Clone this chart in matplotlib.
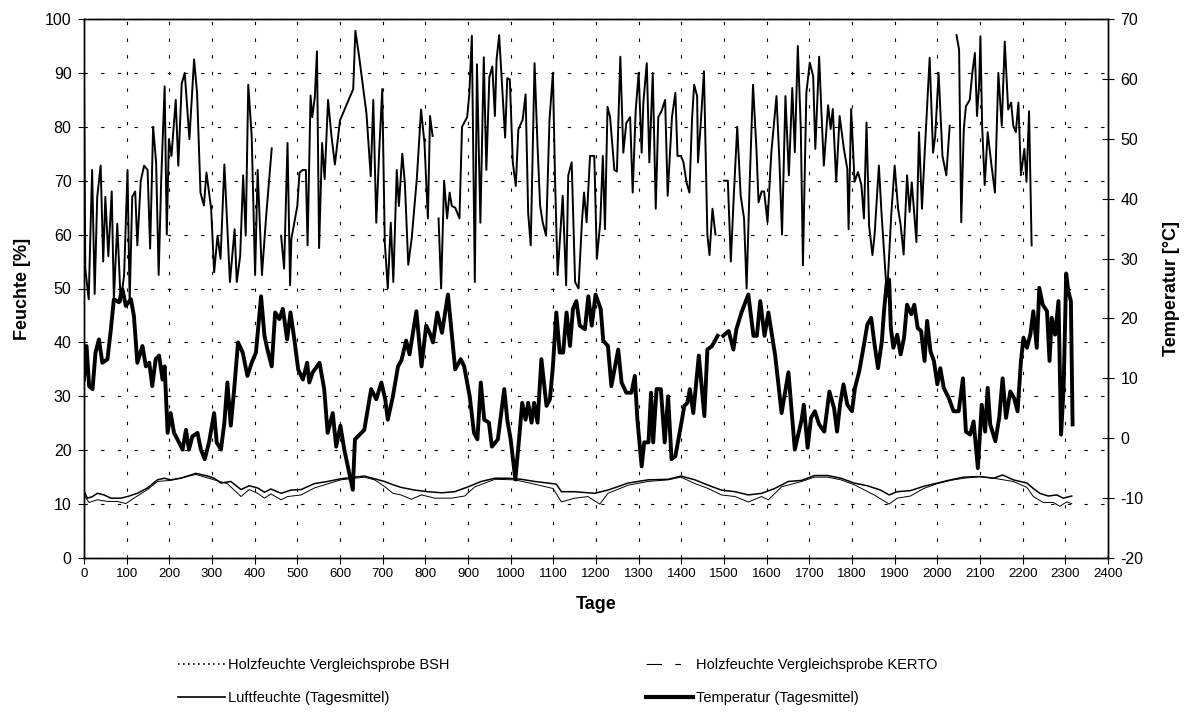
import matplotlib
matplotlib.use("Agg")
import matplotlib.pyplot as plt
from matplotlib.lines import Line2D
import numpy as np

plt.rcParams['font.family'] = ['Liberation Sans', 'DejaVu Sans']
plt.rcParams['axes.unicode_minus'] = False

nan = np.nan

# Luftfeuchte (Tagesmittel) [%]
rh_days = [0, 3, 11, 19, 25, 31, 39, 45, 50, 57, 65, 70, 78, 86, 94, 102, 107, 113, 120, 125,
           133, 141, 149, 155, 162, 169, 175, 181, 189, 194, 199, 205, 215, 221, 229, 236, 240, 247, 258, 265,
           273, 281, 287, 298, 305, 313, 320, 329, 337, 342, 353, 358, 366, 373, 379, 385, 393, 401, 407, 417,
           427, 440, 450, 462, 469, 477, 483, 486, 500, 505, 513, 520, 524, 531, 535, 541, 546, 551, 558, 564,
           572, 580, 588, 600, 631, 636, 644, 662, 672, 678, 685, 692, 699, 705, 712, 719, 725, 733, 738, 746,
           752, 760, 768, 780, 790, 798, 806, 811, 817, 824, 831, 837, 844, 851, 857, 862, 870, 880, 886, 898,
           903, 909, 916, 921, 929, 937, 943, 950, 957, 963, 967, 973, 979, 987, 992, 998, 1005, 1012, 1018, 1028,
           1035, 1041, 1047, 1056, 1063, 1069, 1075, 1083, 1091, 1099, 1104, 1110, 1116, 1122, 1130, 1135, 1143, 1151, 1159, 1167,
           1172, 1178, 1186, 1196, 1202, 1210, 1216, 1221, 1227, 1233, 1243, 1249, 1257, 1264, 1271, 1280, 1286, 1293, 1300, 1307,
           1311, 1319, 1325, 1333, 1340, 1346, 1354, 1362, 1368, 1378, 1386, 1391, 1399, 1405, 1412, 1419, 1425, 1430, 1437, 1439,
           1445, 1453, 1461, 1466, 1473, 1480, 1490, 1500, 1509, 1516, 1523, 1531, 1539, 1547, 1553, 1560, 1568, 1576, 1581, 1588,
           1594, 1602, 1611, 1623, 1630, 1636, 1644, 1652, 1660, 1666, 1673, 1680, 1685, 1693, 1701, 1709, 1714, 1723, 1728, 1734,
           1744, 1750, 1755, 1763, 1771, 1781, 1789, 1792, 1798, 1806, 1814, 1822, 1828, 1834, 1840, 1848, 1853, 1863, 1869, 1882,
           1892, 1900, 1908, 1914, 1921, 1929, 1935, 1940, 1945, 1951, 1957, 1964, 1970, 1982, 1990, 1995, 2003, 2012, 2021, 2029,
           2037, 2045, 2051, 2056, 2062, 2067, 2076, 2082, 2088, 2093, 2098, 2101, 2105, 2111, 2118, 2127, 2135, 2143, 2151, 2158,
           2166, 2173, 2178, 2184, 2190, 2196, 2204, 2209, 2215, 2221]
rh_vals = [89, 53.7, 48, 72, 49, 67, 72.8, 55, 67, 56, 68, 48, 62, 47.5, 52.5, 72, 47.5, 67, 68, 58,
           70, 72.8, 72, 57.4, 80, 73.4, 52.5, 70.3, 87.5, 60, 77.7, 74.6, 85, 72.8, 88, 90, 85.7, 77.7, 92.5, 86.3,
           67.8, 65.4, 71.5, 64.8, 53, 59.8, 55.5, 73, 59.8, 51.2, 61, 51.2, 56, 71, 59.8, 87.8, 78.3, 52.5, 72, 52.5,
           63.5, 76, nan, 59.8, 53.7, 77, 50.6, 59.2, 65.3, 71.5, 72, 72, 58, 85.8, 81.8, 85.5, 94, 57.5, 77, 70.3,
           85, 78.3, 73, 81.2, 87, 97.8, 93.5, 82.5, 70.8, 85, 62.2, 75.7, 87, 58.5, 50, 62.2, 51.2, 72, 65.3, 75,
           69.6, 54.4, 59.3, 70.3, 83.2, 77, 63, 82, 78.3, nan, 63, 50, 70, 63, 67.8, 65.3, 65, 63, 80, 81.8,
           86, 96.9, 51.2, 91.6, 62.2, 92.9, 72, 89.2, 91.2, 82, 92.5, 97, 88.8, 78, 89, 88.8, 73.4, 69, 79.5, 81.3,
           86, 64, 58, 91.8, 76.4, 65.4, 62.3, 59.8, 81.3, 90, 70.3, 52.5, 59.8, 67.2, 50.6, 71, 73.4, 51.2, 50, 62.3,
           67.8, 62.3, 74.6, 74.6, 55.5, 62.3, 74.6, 61, 83.7, 81.8, 72, 71.7, 93, 75.2, 80.7, 81.8, 67.8, 83, 90, 75.2,
           84.5, 91.8, 73.4, 90, 64.8, 81.8, 83, 85, 67.2, 81.8, 86.3, 74.6, 74.6, 73.4, 69.7, 67.8, 81.3, 87.8, 85.7, 73.4,
           80, 90.3, 60, 56.2, 64.8, 60, nan, 70, 70, 55, 67.3, 80, 67.3, 63, 50, 69.2, 87.8, 75.9, 66, 68,
           68, 62.3, 75.3, 85.7, 73.4, 60, 85.7, 71, 87.2, 75.3, 95, 79.6, 54.3, 86.3, 91.9, 89.4, 75.9, 93, 83.3, 72.8,
           84, 79.6, 83.3, 69.8, 82, 75.9, 72.2, 61, 83.3, 69.8, 71.6, 69.2, 63, 80.8, 61.7, 56.2, 60, 72.8, 64.2, 48.5,
           63.7, 72.8, 64.8, 61.8, 56.3, 71, 64.2, 69.7, 64.8, 58.6, 79, 64.8, 74.6, 92.8, 75.2, 78.3, 90, 74.6, 71, 80.2,
           nan, 97, 94.3, 62.3, 79.6, 83.8, 85, 90, 93.7, 82, 88, 96.8, 80.2, 69.2, 79, 72.8, 67.8, 90, 80.2, 95.8,
           83.2, 84.5, 80.2, 79, 84.5, 71, 75.9, 69.8, 82.9, 58]

# Temperatur (Tagesmittel) [°C]
t_days = [0, 6, 12, 20, 27, 35, 43, 55, 63, 70, 82, 90, 98, 110, 117, 125, 137, 145, 153, 160,
          168, 176, 184, 189, 196, 203, 211, 219, 231, 239, 246, 254, 266, 274, 283, 293, 305, 311, 321, 329,
          336, 344, 352, 361, 372, 383, 393, 403, 415, 423, 430, 440, 448, 458, 466, 476, 484, 493, 502, 513,
          523, 528, 536, 552, 563, 571, 583, 591, 601, 610, 630, 635, 657, 673, 685, 697, 706, 712, 724, 736,
          744, 755, 763, 779, 791, 802, 810, 818, 828, 839, 853, 870, 883, 891, 904, 914, 922, 930, 938, 949,
          956, 970, 985, 992, 1000, 1011, 1021, 1027, 1035, 1041, 1049, 1055, 1063, 1072, 1084, 1092, 1099, 1107, 1115, 1123,
          1131, 1139, 1146, 1154, 1162, 1174, 1182, 1190, 1199, 1211, 1217, 1228, 1236, 1252, 1260, 1271, 1283, 1291, 1297, 1307,
          1313, 1323, 1329, 1334, 1342, 1352, 1361, 1369, 1377, 1386, 1399, 1407, 1414, 1420, 1428, 1441, 1454, 1461, 1472, 1485,
          1491, 1498, 1511, 1522, 1529, 1541, 1557, 1569, 1577, 1585, 1595, 1604, 1620, 1635, 1651, 1666, 1682, 1687, 1696, 1704,
          1713, 1723, 1735, 1747, 1758, 1765, 1772, 1780, 1789, 1800, 1807, 1817, 1828, 1836, 1845, 1853, 1861, 1870, 1875, 1881,
          1887, 1891, 1897, 1906, 1914, 1922, 1929, 1939, 1946, 1954, 1962, 1970, 1976, 1984, 1992, 2000, 2007, 2015, 2027, 2038,
          2050, 2060, 2067, 2077, 2085, 2095, 2104, 2112, 2118, 2124, 2136, 2145, 2153, 2161, 2171, 2180, 2188, 2196, 2202, 2210,
          2218, 2225, 2233, 2239, 2247, 2257, 2263, 2268, 2276, 2284, 2290, 2296, 2302, 2307, 2313, 2317]
t_vals = [9.8, 15.4, 8.7, 8.2, 14.3, 16.5, 12.6, 13.2, 18.2, 23.2, 22.7, 24.9, 22.1, 23.2, 20.4, 12.6, 15.4, 12, 12.6, 8.7,
          13.2, 13.8, 9.8, 12, 0.9, 4.2, 0.9, -0.2, -1.9, 1.4, -1.9, 0.3, 0.9, -1.9, -3.5, -0.7, 4.2, -0.7, -1.9, 2.6,
          9.3, 2.1, 8.2, 16, 14.3, 10.4, 12.6, 14.3, 23.7, 17.1, 14.8, 12, 21, 19.9, 21.6, 16.5, 21, 16.5, 11.5, 9.8,
          12.6, 9.3, 11, 12.6, 8.2, 0.9, 4.2, -1.4, 2.1, -1.9, -8.6, -0.2, 1.4, 8.2, 6.5, 9.3, 6.5, 3.1, 7, 12,
          13, 16.3, 14, 21.2, 12, 18.8, 17.6, 16, 21, 17.6, 24, 11.5, 13.2, 12, 7, 0.9, -0.2, 9.3, 3.1, 2.6,
          -1.4, -0.2, 8.2, 3.1, -0.2, -6.9, 0.9, 5.9, 3.1, 5.9, 2.6, 5.9, 2.6, 13.2, 5.4, 6.5, 12, 21, 14.3, 14.3,
          21, 15.4, 21.6, 22.9, 18.8, 18.2, 23.7, 18.8, 24, 21.6, 16.3, 15.4, 8.7, 14.8, 9.3, 7.6, 7.6, 10.4, 3.1, -4.7,
          -0.7, -0.7, 7.6, -0.7, 8.2, 8.2, -0.7, 7, -3.5, -3, 2.1, 5.4, 5.9, 8.2, 4.2, 13.8, 3.7, 14.8, 15.4, 17.1,
          nan, 17.1, 17.9, 14.8, 18.2, 21, 24, 17.1, 17.1, 22.9, 17.1, 21, 13.8, 4.2, 11, -1.9, 3.1, 5.6, -1.6, 3.4,
          4.5, 2.3, 1.1, 7.8, 5, 1.1, 5.6, 9, 5.6, 4.5, 8.4, 11.2, 15.6, 19, 20.1, 15.6, 11.7, 16.2, 21.2, 25.7,
          26.5, 18.4, 15.1, 17.3, 14, 16.8, 22.3, 20.7, 22.3, 18.4, 17.9, 12.9, 19.6, 14.5, 12.9, 9, 11.7, 8.4, 6.7, 4.5,
          4.5, 10, 1.1, 0.6, 2.8, -5, 5.6, 1.1, 8.4, 2.3, -0.5, 3.4, 10, 3.4, 7.8, 6.7, 4.5, 12.9, 16.8, 15.1,
          17.3, 21.2, 15.1, 25.1, 22.3, 21.2, 12.9, 20.1, 17.3, 22.9, 0.6, 8.4, 27.5, 24.6, 22.9, 2.3]

# Holzfeuchte Vergleichsprobe BSH [%]
bsh_days = [0, 8, 20, 31, 47, 63, 86, 102, 125, 149, 172, 188, 203, 227, 262, 290, 305, 321, 344, 368,
            387, 407, 423, 438, 462, 485, 509, 540, 571, 602, 634, 657, 681, 704, 724, 743, 775, 806, 838, 869,
            900, 931, 963, 994, 1025, 1056, 1088, 1107, 1119, 1150, 1197, 1228, 1275, 1322, 1369, 1399, 1432, 1463, 1494, 1526,
            1557, 1588, 1619, 1651, 1682, 1712, 1743, 1774, 1805, 1836, 1867, 1887, 1906, 1937, 1968, 2000, 2031, 2062, 2100, 2132,
            2153, 2178, 2210, 2225, 2240, 2260, 2280, 2295, 2315]
bsh_vals = [12.4, 11.1, 11.4, 12, 11.7, 11.1, 11.1, 11.4, 12, 13, 14.5, 14.8, 14.5, 14.8, 15.7, 15.2, 14.8, 13.9, 14.2, 12.7,
            13.4, 13, 12.2, 12.8, 12, 12.6, 12.7, 13.8, 14.2, 14.7, 15, 15.2, 14.7, 14.2, 13.6, 13.1, 12.6, 12.3, 12.1, 12.3,
            13.2, 14.2, 14.8, 14.8, 14.6, 14.2, 13.9, 13.7, 12.3, 12.3, 12, 12.6, 13.9, 14.5, 14.6, 15.2, 14.5, 13.5, 12.6, 12.3,
            11.7, 12, 12.9, 14.2, 14.4, 15.3, 15.3, 14.8, 13.9, 13.4, 12.6, 11.7, 12.3, 12.5, 13.3, 13.9, 14.5, 15, 15.1, 14.8,
            15.4, 14.5, 13.9, 12.9, 12, 11.5, 11.7, 11.1, 11.5]

# Holzfeuchte Vergleichsprobe KERTO [%]
kerto_days = [0, 12, 31, 55, 78, 98, 117, 149, 172, 203, 262, 305, 336, 368, 387, 407, 423, 438, 462, 477,
              509, 540, 602, 634, 657, 681, 704, 724, 743, 767, 791, 822, 861, 892, 916, 963, 1010, 1056, 1099, 1119,
              1150, 1181, 1209, 1228, 1275, 1322, 1369, 1399, 1432, 1463, 1494, 1526, 1557, 1588, 1604, 1635, 1682, 1712, 1743, 1774,
              1805, 1852, 1887, 1906, 1937, 1968, 2000, 2031, 2062, 2100, 2132, 2178, 2210, 2225, 2248, 2272, 2287, 2303, 2315]
kerto_vals = [11.7, 10.3, 10.8, 10.5, 10.5, 10.1, 11.1, 12.7, 14.2, 14.4, 15.5, 14.5, 13.8, 11.4, 12.7, 12, 11.1, 11.9, 10.8, 11.4,
              11.7, 13, 14.5, 14.8, 15, 14.5, 13.3, 12, 11.7, 10.9, 11.7, 11.1, 11.1, 11.5, 13.2, 14.6, 14.5, 13.7, 12.9, 10.4,
              11.1, 11.4, 10, 12, 13.5, 14.2, 14.5, 15, 13.8, 12.9, 11.7, 11.4, 10.4, 11.4, 10.8, 13.2, 14.2, 15, 15, 14.5,
              13.6, 11.7, 10, 11.1, 11.5, 12.9, 13.8, 14.4, 14.8, 15.1, 14.8, 14.2, 13.1, 11.4, 10.3, 10.3, 9.6, 10.4, 10.1]

fig = plt.figure(figsize=(12, 7.16), dpi=100)
ax = fig.add_axes([84 / 1200, 1 - 558 / 716, 1024 / 1200, 539 / 716])
ax2 = ax.twinx()

ax.plot(kerto_days, kerto_vals, color='black', lw=0.7)
ax.plot(bsh_days, bsh_vals, color='black', lw=1.1)
ax.plot(rh_days, rh_vals, color='black', lw=1.4)
ax2.plot(t_days, t_vals, color='black', lw=2.8)

ax.set_xlim(0, 2400)
ax.set_ylim(0, 100)
ax2.set_ylim(-20, 70)
ax.set_xticks(np.arange(0, 2401, 100))
ax.set_yticks(np.arange(0, 101, 10))
ax2.set_yticks(np.arange(-20, 71, 10))

ax.grid(True, color='black', linestyle=(0, (3, 12)), linewidth=0.8)
ax.tick_params(axis='x', direction='out', length=4, labelsize=9.5, pad=3)
ax.tick_params(axis='y', direction='out', length=4, labelsize=11.5, pad=5)
ax2.tick_params(axis='y', direction='inout', length=8, labelsize=11.5, pad=5)
for a in (ax, ax2):
    for s in a.spines.values():
        s.set_linewidth(1.0)

ax.set_xlabel('Tage', fontsize=13, fontweight='bold', labelpad=12)
ax.set_ylabel('Feuchte [%]', fontsize=13, fontweight='bold', labelpad=10)
ax2.set_ylabel('Temperatur [°C]', fontsize=13, fontweight='bold', labelpad=14)

# legend handles drawn like the original (dotted / dash + short dash / thin / thick)
handles = [
    Line2D([], [], color='black', lw=1.2, linestyle=(0, (1, 2))),
    Line2D([], [], color='black', lw=1.2, linestyle='-'),
    Line2D([], [], color='black', lw=0.8, linestyle=(0, (14, 12, 5, 30))),
    Line2D([], [], color='black', lw=3.0, linestyle='-'),
]
labels = ['Holzfeuchte Vergleichsprobe BSH', 'Luftfeuchte (Tagesmittel)',
          'Holzfeuchte Vergleichsprobe KERTO', 'Temperatur (Tagesmittel)']
fig.legend(handles, labels, ncol=2, frameon=False, fontsize=10.5,
           loc='upper left', bbox_to_anchor=(165 / 1200, 1 - 645 / 716),
           handlelength=3.2, handletextpad=0.2, columnspacing=13.5,
           labelspacing=1.3)

fig.savefig('out.png', dpi=100)
